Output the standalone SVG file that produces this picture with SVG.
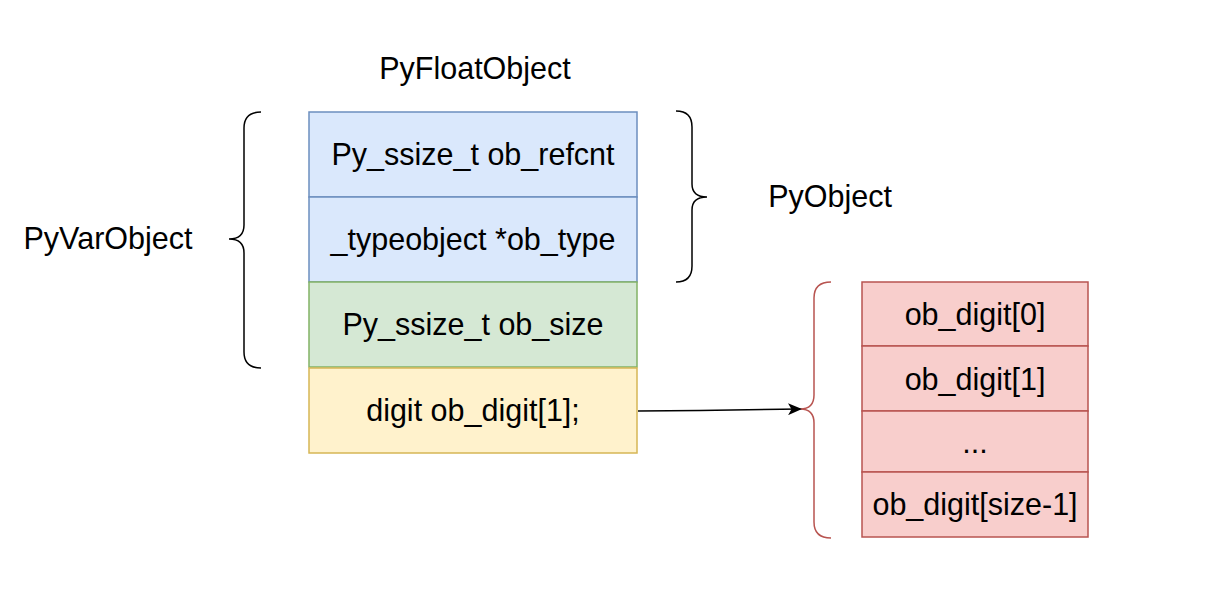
<svg xmlns="http://www.w3.org/2000/svg" width="1208" height="602" viewBox="0 0 1208 602">
<style>
text{font-family:"Liberation Sans",Arial,Helvetica,sans-serif;font-size:30.5px;fill:#000;text-anchor:middle}
.blue{fill:#dae8fc;stroke:#6c8ebf;stroke-width:1.5}
.green{fill:#d5e8d4;stroke:#82b366;stroke-width:1.5}
.yellow{fill:#fff2cc;stroke:#d6b656;stroke-width:1.5}
.red{fill:#f8cecc;stroke:#b85450;stroke-width:1.5}
.brace{fill:none;stroke:#000;stroke-width:1.5}
.rbrace{fill:none;stroke:#b85450;stroke-width:1.5}
</style>
<defs>
<marker id="arr" markerWidth="14" markerHeight="12" refX="12" refY="6" orient="auto" markerUnits="userSpaceOnUse">
<path d="M0,0 L14,6 L0,12 L3.5,6 Z" fill="#000"/>
</marker>
</defs>
<rect width="1208" height="602" fill="#fff"/>
<g id="title-pyfloatobject"><text x="475" y="79">PyFloatObject</text></g>
<g id="label-pyobject"><text x="830" y="207">PyObject</text></g>
<g id="label-pyvarobject"><text x="108" y="249">PyVarObject</text></g>
<g id="ob_refcnt"><rect class="blue" x="309" y="112" width="328" height="85"/><text x="473" y="165">Py_ssize_t ob_refcnt</text></g>
<g id="ob_type"><rect class="blue" x="309" y="197" width="328" height="85"/><text x="473" y="250">_typeobject *ob_type</text></g>
<g id="ob_size"><rect class="green" x="309" y="282" width="328" height="85"/><text x="473" y="335">Py_ssize_t ob_size</text></g>
<g id="ob_digit"><rect class="yellow" x="309" y="368" width="328" height="85"/><text x="473" y="421">digit ob_digit[1];</text></g>
<g id="brace-pyvarobject"><path class="brace" d="M261,112 Q244,112 244,128 L244,225 Q244,239 229,239 Q244,239 244,253 L244,352 Q244,368 261,368"/></g>
<g id="brace-pyobject"><path class="brace" d="M676,111 Q692,111 692,127 L692,184 Q692,197 707,197 Q692,197 692,210 L692,266 Q692,282 676,282"/></g>
<g id="brace-digits"><path class="rbrace" d="M831,282 Q814,282 814,298 L814,395 Q814,409 800,409 Q814,409 814,423 L814,522 Q814,538 831,538"/></g>
<g id="digit0"><rect class="red" x="862" y="282" width="226" height="64"/><text x="975" y="325">ob_digit[0]</text></g>
<g id="digit1"><rect class="red" x="862" y="346" width="226" height="65"/><text x="975" y="390">ob_digit[1]</text></g>
<g id="digit-ellipsis"><rect class="red" x="862" y="411" width="226" height="61"/><text x="975" y="453">...</text></g>
<g id="digit-last"><rect class="red" x="862" y="472" width="226" height="65"/><text x="975" y="515">ob_digit[size-1]</text></g>
<g id="connectors"><path d="M638,411 L700,410.5 L800,409" fill="none" stroke="#000" stroke-width="1.5" marker-end="url(#arr)"/></g>
</svg>
